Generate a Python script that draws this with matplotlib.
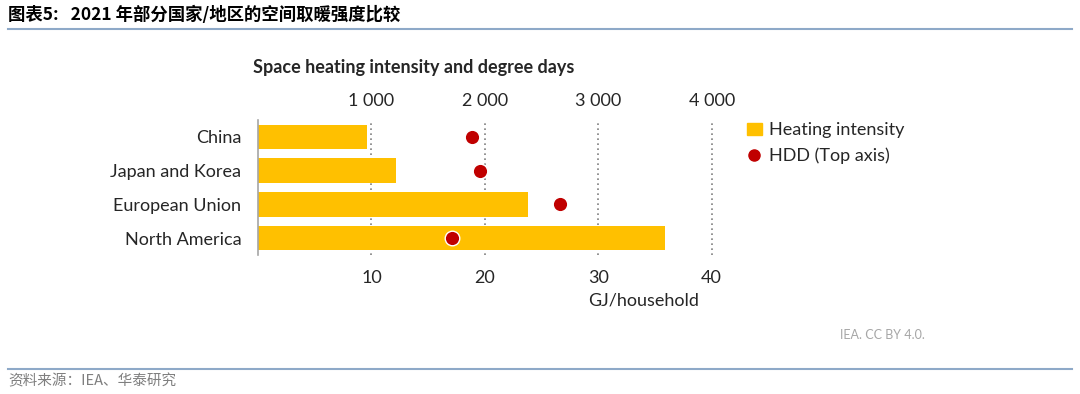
import matplotlib.pyplot as plt
import matplotlib.ticker as mticker
from matplotlib.lines import Line2D
from matplotlib.patches import Patch

plt.rcParams['font.family'] = ['Lato', 'DejaVu Sans']

regions = ['China', 'Japan and Korea', 'European Union', 'North America']
intensity = [9.6, 12.2, 23.8, 35.9]     # GJ/household
hdd = [1890, 1960, 2660, 1710]          # heating degree days (top axis)

bar_color = '#FFC000'
dot_color = '#C00000'

fig = plt.figure(figsize=(10.8, 3.94), dpi=100)
ax = fig.add_axes([258 / 1080, (394 - 255) / 394, 465 / 1080, 135 / 394])

y = range(len(regions))
ax.barh(y, intensity, height=0.72, color=bar_color, zorder=2)
ax.set_xlim(0, 41)
ax.set_ylim(3.5, -0.5)
ax.set_yticks(list(y))
ax.set_yticklabels(regions, fontsize=13, color='#262626')
ax.set_xticks([10, 20, 30, 40])
ax.tick_params(axis='both', length=0, labelsize=13, colors='#262626')
ax.tick_params(axis='x', pad=11)
ax.tick_params(axis='y', pad=12)
ax.xaxis.grid(True, linestyle=(0, (1, 2)), color='#808080', linewidth=1.2, zorder=0)
for s in ['top', 'right', 'bottom']:
    ax.spines[s].set_visible(False)
ax.spines['left'].set_color('#A6A6A6')
ax.spines['left'].set_linewidth(1.2)
ax.set_xlabel('GJ/household', fontsize=13, color='#262626')
ax.xaxis.set_label_coords(0.83, -0.28)

top = ax.twiny()
top.set_xlim(0, 4100)
top.set_ylim(3.5, -0.5)
top.scatter(hdd, list(y), s=110, color=dot_color, edgecolor='white', linewidth=1, zorder=3)
top.set_xticks([1000, 2000, 3000, 4000])
top.xaxis.set_major_formatter(mticker.FuncFormatter(lambda v, p: f'{int(v):,}'.replace(',', ' ')))
top.tick_params(axis='x', length=0, labelsize=13, colors='#262626', pad=8)
for s in top.spines.values():
    s.set_visible(False)

fig.text(253 / 1080, 1 - 68 / 394, 'Space heating intensity and degree days',
         fontsize=13, fontweight='bold', color='#262626', va='center')

handles = [Patch(color=bar_color, label='Heating intensity'),
           Line2D([], [], marker='o', linestyle='', color=dot_color, markersize=8,
                  label='HDD (Top axis)')]
fig.legend(handles=handles, loc='upper left', bbox_to_anchor=(731 / 1080, 1 - 106 / 394),
           frameon=False, fontsize=13, handlelength=0.8, handletextpad=0.4,
           labelspacing=0.5, labelcolor='#262626')

fig.text(840 / 1080, 1 - 335 / 394, 'IEA. CC BY 4.0.', fontsize=9, color='#A6A6A6', va='center')

# report header / footer
fig.text(8 / 1080, 1 - 15 / 394, '图表5:   2021 年部分国家/地区的空间取暖强度比较',
         fontsize=12.5, fontweight='bold', color='black', va='center',
         family=['Noto Sans CJK SC', 'DejaVu Sans'])
fig.add_artist(Line2D([8 / 1080, 1072 / 1080], [1 - 29 / 394] * 2, color='#8EA9C8', linewidth=1.5))
fig.add_artist(Line2D([8 / 1080, 1072 / 1080], [1 - 369 / 394] * 2, color='#8EA9C8', linewidth=1.5))
fig.text(8 / 1080, 1 - 381 / 394, '资料来源：IEA、华泰研究', fontsize=10.5, color='#7F7F7F',
         va='center', family=['Noto Sans CJK SC', 'DejaVu Sans'])

fig.savefig('out.png', dpi=100)
